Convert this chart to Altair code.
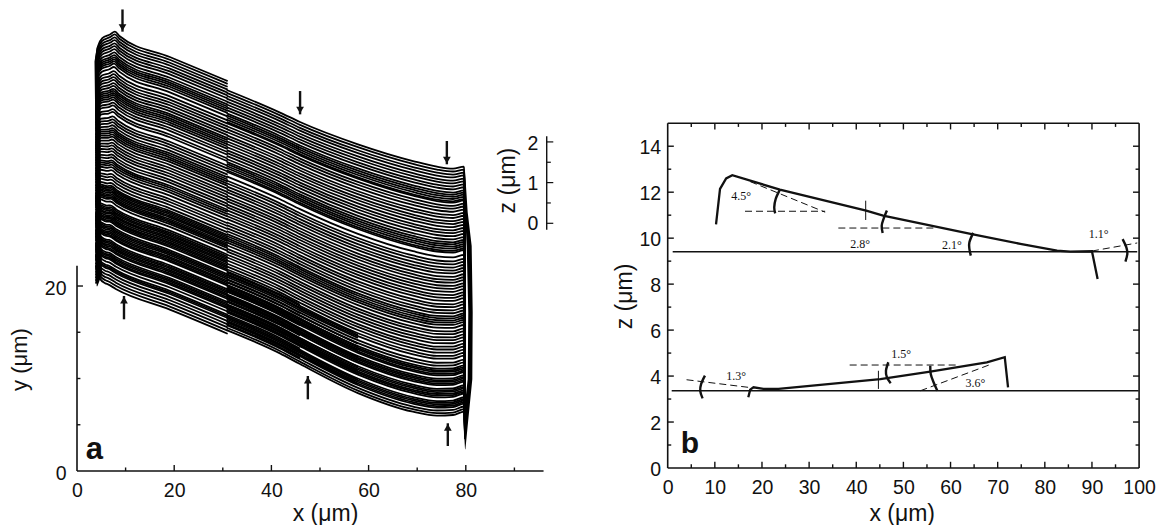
import altair as alt
import numpy as np
import pandas as pd

FONT = "Liberation Sans"
INK = "#111111"

# ---------- panel a: stacked scan lines (data units: x in um, y in um on the picture's y axis)
gaps_left = [
    .30, .32, .30, .34, .30, .32, .36, .30,
    .23, .22, .23, .24,
    .36, .44, .34, .32, .30, .34, .30, .32,
    .22, .23, .22, .24, .25,
    .34, .30, .40, .30, .48, .32, .30, .34, .30,
    .23, .22, .23, .24,
    .32, .34, .30, .32, .30, .36, .30, .34,
    .22, .24, .26,
    .34, .40, .30, .32, .36, .30,
    .18, .16, .18, .16, .20, .18, .16, .18,
    .30, .42, .20, .18, .16, .18, .16, .20, .18,
    .16, .18, .16, .36, .18, .16, .18, .20, .16, .18, .16,
    .40, .18, .16, .18, .16, .20, .16, .34, .18, .16, .18, .16,
    .34, .36, .18, .16, .34, .34, .34, .34, .34,
]
gaps_right = [
    .30, .32, .30, .34, .30, .32, .30, .34,
    .23, .22, .23, .24, .14,
    .34, .30, .32, .36, .30, .34, .30, .32, .34, .30, .32, .34, .30,
    .22, .23, .22, .24, .17,
    .50, .44,
    .30, .34, .32, .30, .36, .32, .30, .34, .30, .32, .34, .30, .32, .36, .30, .34, .30, .32,
    .22, .23, .22, .24, .31,
    .36, .30, .34, .30, .32, .36, .30, .32, .34, .30, .42, .30, .32,
    .18, .16, .20, .16, .34, .18, .16, .18, .16, .38, .18, .16, .20, .16, .18, .40, .18, .16, .18, .16,
    .30, .28, .26,
]
# extra scans that blacken the lower middle of the stack (offsets under the top scan, points kept)
dark_offsets = [19.6, 19.9, 20.2, 20.5, 20.8, 21.1, 21.5, 21.8, 22.2, 22.5, 22.9, 23.2, 23.6, 23.9, 24.3, 24.6, 25.0, 25.3]
dark_points = [3, 4, 4, 3, 4, 4, 4, 3, 4, 4, 3, 4, 4, 4, 3, 4, 4, 3]
dark_x = [30.8, 41.77, 45.88, 57.8]
dark_y = [41.19, 38.75, 37.73, 35.32]
dark_stretch = [1.0, 1.003, 1.008, 1.036]

left_x = [3.9, 4.3, 5.2, 6.8, 7.8, 8.8, 19.1, 31.0]
left_y = [44.4, 45.9, 46.8, 47.2, 47.5, 47.0, 44.76, 42.16]
left_stretch = [.884, .90, .95, .985, 1.0, 1.0, 1.0, 1.0]
left_shear = [0, 0, -.02, -.035, -.052, -.03, 0, 0]
right_x = [30.8, 41.77, 45.88, 57.8, 69.14, 74.07, 77.37, 79.63, 79.84]
right_y = [41.19, 38.75, 37.73, 35.32, 33.51, 32.9, 32.69, 32.9, 29.4]
right_stretch = [1.0, 1.003, 1.008, 1.036, 1.044, 1.037, 1.026, 1.02, 1.0]

wedge_y = [32.9, 27.97, 24.32, 17.16, 9.91, 5.59, 2.35]
wedge_x1 = [79.69, 79.84, 80.19, 80.51, 80.39, 79.49, 79.84]
wedge_x2 = [79.78, 80.39, 81.21, 81.42, 81.34, 80.52, 79.92]
band_y = [19.97, 21.27, 29.37, 40.18, 44.28, 45.8]
band_x1 = [4.05, 3.97, 3.85, 3.7, 3.6, 4.05]
band_x2 = [4.2, 5.14, 4.94, 4.84, 4.32, 4.32]

arrow_x = [9.36, 45.9, 76.1, 9.67, 47.5, 76.3]
arrow_tail = [49.9, 41.08, 35.68, 16.4, 7.75, 2.7]
arrow_tip = [47.5, 38.56, 33.16, 18.92, 10.27, 5.16]

a_x_labels = [0, 20, 40, 60, 80]
a_y_labels = [0, 20]
a_x_major = [20, 40, 60, 80]
a_x_minor = [10, 30, 50, 70, 90]
a_y_major = [20]
a_y_minor = [5, 10, 15]

z_major_y = [26.78, 31.18, 35.58]
z_minor_y = [28.98, 33.38]
z_text = ["0", "1", "2"]
z_text_y = [26.67, 31.0, 35.4]

# ---------- panel b
upper_x = [10.25, 11.1, 12.4, 13.7, 23.8, 42.1, 45.7, 64.5, 74.8, 82.6, 85.4, 90.0, 91.2]
upper_z = [10.6, 12.14, 12.6, 12.74, 12.11, 11.2, 10.98, 10.18, 9.75, 9.46, 9.41, 9.43, 8.22]
lower_x = [17.1, 17.5, 18.2, 20.3, 23.5, 45.1, 55.7, 67.7, 71.5, 72.2]
lower_z = [3.08, 3.41, 3.51, 3.44, 3.44, 3.87, 4.19, 4.6, 4.82, 3.51]
base_x = [[1.06, 99.6], [.85, 99.9]]
base_z = [[9.41, 9.41], [3.36, 3.36]]
dash_x = [[16.4, 33.4], [17.5, 33.4], [36.2, 56.4], [90.0, 99.6], [4.0, 17.1], [38.6, 61.7], [53.6, 68.8]]
dash_z = [[11.17, 11.17], [12.46, 11.13], [10.44, 10.44], [9.44, 9.79], [3.84, 3.51], [4.48, 4.48], [3.36, 4.53]]
mark_x = [42.0, 44.7]
mark_z1 = [11.63, 4.23]
mark_z2 = [10.79, 3.44]
arc_x = [[23.8, 22.9, 22.6, 22.8], [46.5, 45.8, 45.4, 45.6], [64.8, 64.0, 64.0, 64.3], [96.5, 97.3, 97.5, 97.1],
         [7.9, 7.1, 6.9, 7.4], [46.8, 46.3, 46.5, 47.3], [55.7, 55.8, 56.4, 57.2]]
arc_z = [[12.11, 11.7, 11.34, 11.08], [11.2, 10.84, 10.54, 10.22], [10.23, 9.82, 9.53, 9.24], [9.96, 9.6, 9.31, 8.98],
         [4.02, 3.66, 3.36, 3.03], [4.6, 4.23, 3.95, 3.69], [4.45, 4.09, 3.73, 3.36]]
angle_text = ["4.5°", "2.8°", "2.1°", "1.1°", "1.3°", "1.5°", "3.6°"]
angle_x = [15.6, 40.8, 60.3, 91.4, 14.5, 49.5, 65.3]
angle_z = [11.82, 9.75, 9.72, 10.18, 4.02, 4.96, 3.69]
b_x_labels = list(range(0, 101, 10))
b_y_labels = [0, 2, 4, 6, 8, 10, 12, 14]
b_x_major = [10, 20, 30, 40, 50, 60, 70, 80, 90]
b_x_minor = [5, 15, 25, 35, 45, 55, 65, 75, 85, 95]
b_y_major = [2, 4, 6, 8, 10, 12, 14]
b_y_minor = [1, 3, 5, 7, 9, 11, 13]

# ---------- scales and axes
sa_x = alt.Scale(domain=[0, 98.56], nice=False, zero=False)
sa_y = alt.Scale(domain=[0, 49.95], nice=False, zero=False)
sb_x = alt.Scale(domain=[0, 100], nice=False, zero=False)
sb_y = alt.Scale(domain=[0, 19.97], nice=False, zero=False)


def make_axis(values, title, pad, tx, ty, offset=0, size=23):
    return alt.Axis(values=values, title=title, ticks=False, domain=False, grid=False,
                    labelFont=FONT, labelFontSize=19.5, labelColor=INK, labelPadding=pad, labelOverlap=False,
                    labelFlush=False, labelOffset=offset,
                    titleFont=FONT, titleFontSize=size, titleFontWeight="normal", titleColor=INK,
                    titleX=tx, titleY=ty, titleAlign="center", titleBaseline="alphabetic", format="d")


ax_a_x = make_axis(a_x_labels, "x (μm)", 10, 248, 49)
ax_a_y = make_axis(a_y_labels, "y (μm)", 11, -50.4, 350, 2, 22)
ax_b_x = make_axis(b_x_labels, "x (μm)", 10, 234, 52)
ax_b_y = make_axis(b_y_labels, "z (μm)", 7, -36, 287, 1)


def enc(scale_x, scale_y, ax_x, ax_y, xf="x", yf="y"):
    return dict(x=alt.X(f"{xf}:Q", scale=scale_x, axis=ax_x), y=alt.Y(f"{yf}:Q", scale=scale_y, axis=ax_y))


A = dict(scale_x=sa_x, scale_y=sa_y, ax_x=ax_a_x, ax_y=ax_a_y)
B = dict(scale_x=sb_x, scale_y=sb_y, ax_x=ax_b_x, ax_y=ax_b_y)


def rules(x1, y1, x2, y2, P, width=1.5, **kw):
    df = pd.DataFrame({"x": x1, "y": y1, "x2": x2, "y2": y2})
    return alt.Chart(df).mark_rule(color=INK, strokeWidth=width, **kw).encode(
        **enc(**P), x2="x2:Q", y2="y2:Q")


def polylines(xs, zs, P, width, **kw):
    rows = [{"k": k, "i": i, "x": a, "y": b}
            for k, (xr, zr) in enumerate(zip(xs, zs)) for i, (a, b) in enumerate(zip(xr, zr))]
    return alt.Chart(pd.DataFrame(rows)).mark_line(color=INK, strokeWidth=width, **kw).encode(
        **enc(**P), detail="k:N", order="i:Q")


def texts(xs, ys, labels, P, size, **kw):
    df = pd.DataFrame({"x": xs, "y": ys, "t": labels})
    return alt.Chart(df).mark_text(color=INK, fontSize=size, **kw).encode(**enc(**P), text="t:N")


def vticks(values, start, length):
    return [(v, start, v, start + length) for v in values]


def hticks(values, start, length):
    return [(start, v, start + length, v) for v in values]


def tick_layer(segments, P, width=1.4):
    x1, y1, x2, y2 = zip(*segments)
    return rules(list(x1), list(y1), list(x2), list(y2), P, width)


# ---------- stack
off_l = np.concatenate([[0], np.cumsum(gaps_left)])
off_r = np.concatenate([[0], np.cumsum(gaps_right)])
rows = []
for n, o in enumerate(off_l):
    for i in range(len(left_x)):
        rows.append({"k": f"L{n}", "i": i, "x": left_x[i] + o * left_shear[i], "y": left_y[i] - o * left_stretch[i]})
for n, o in enumerate(off_r):
    for i in range(len(right_x)):
        rows.append({"k": f"R{n}", "i": i, "x": right_x[i], "y": right_y[i] - o * right_stretch[i]})
for n, (o, m) in enumerate(zip(dark_offsets, dark_points)):
    for i in range(m):
        rows.append({"k": f"D{n}", "i": i, "x": dark_x[i], "y": dark_y[i] - o * dark_stretch[i]})
stack = alt.Chart(pd.DataFrame(rows)).mark_line(color="#000000", strokeWidth=1.8, interpolate="monotone").encode(
    **enc(**A), detail="k:N", order="i:Q")


def band(ys, x1s, x2s):
    df = pd.DataFrame({"y": ys, "x": x1s, "x2": x2s})
    return alt.Chart(df).mark_area(color="#000000", orient="horizontal").encode(**enc(**A), x2="x2:Q")


# panel a axes drawn inward
frame_a = rules([0, 0], [0, 0], [96, 0], [0, 22.2], A, 1.6)
ticks_a = tick_layer(
    vticks(a_x_major, 0, 0.65) + vticks(a_x_minor, 0, 0.38) + hticks(a_y_major, 0, 1.23) + hticks(a_y_minor, 0, 0.7), A)
zbar = [
    rules([96.65], [26.08], [96.65], [36.2], A, 1.4),
    tick_layer(hticks(z_major_y, 96.65, 1.35) + hticks(z_minor_y, 96.65, 0.85), A, 1.2),
    texts([93.8] * 3, z_text_y, z_text, A, 19.5, font=FONT),
    texts([88.7], [31.4], ["z (μm)"], A, 23, font=FONT, angle=270),
]
arrows = rules(arrow_x, arrow_tail, arrow_x, arrow_tip, A, 2.4)
heads = pd.DataFrame({
    "x": arrow_x,
    "y": [t + 0.45 if a > t else t - 0.45 for a, t in zip(arrow_tail, arrow_tip)],
    "s": ["triangle-down" if a > t else "triangle-up" for a, t in zip(arrow_tail, arrow_tip)],
})
head_marks = alt.Chart(heads).mark_point(filled=True, color=INK, opacity=1, size=60).encode(
    **enc(**A),
    shape=alt.Shape("s:N", scale=alt.Scale(domain=["triangle-down", "triangle-up"],
                                           range=["triangle-down", "triangle-up"]), legend=None))
letter_a = texts([3.55], [2.3], ["a"], A, 31, font=FONT, fontWeight="bold")

panel_a = alt.layer(stack, band(wedge_y, wedge_x1, wedge_x2), band(band_y, band_x1, band_x2),
                    frame_a, ticks_a, *zbar, arrows, head_marks, letter_a).properties(width=479, height=462)

# ---------- panel b
frame_b = rules([0, 100, 0, 0], [0, 0, 15, 0], [0, 100, 100, 100], [15, 15, 15, 0], B, 1.6)
ticks_b = tick_layer(
    vticks(b_x_major, 0, 0.27) + vticks(b_x_minor, 0, 0.16)
    + vticks(b_x_major, 15, -0.27) + vticks(b_x_minor, 15, -0.16)
    + hticks(b_y_major, 0, 1.3) + hticks(b_y_minor, 0, 0.75)
    + hticks(b_y_major, 100, -1.3) + hticks(b_y_minor, 100, -0.75), B)
panel_b = alt.layer(
    frame_b, ticks_b,
    polylines(base_x, base_z, B, 1.5),
    polylines([upper_x, lower_x], [upper_z, lower_z], B, 2.3),
    polylines(dash_x, dash_z, B, 1.0, strokeDash=[7, 4]),
    rules(mark_x, mark_z1, mark_x, mark_z2, B, 1.0),
    polylines(arc_x, arc_z, B, 2.4, interpolate="cardinal"),
    texts(angle_x, angle_z, angle_text, B, 12, font="Liberation Serif"),
    texts([4.7], [1.05], ["b"], B, 30, font=FONT, fontWeight="bold"),
).properties(width=471.4, height=459)

chart = alt.hconcat(panel_a, panel_b, spacing=111.7, bounds="flush", padding=0).configure_view(stroke=None)

chart.save("out.html", embed_options={"renderer": "svg", "actions": False})
